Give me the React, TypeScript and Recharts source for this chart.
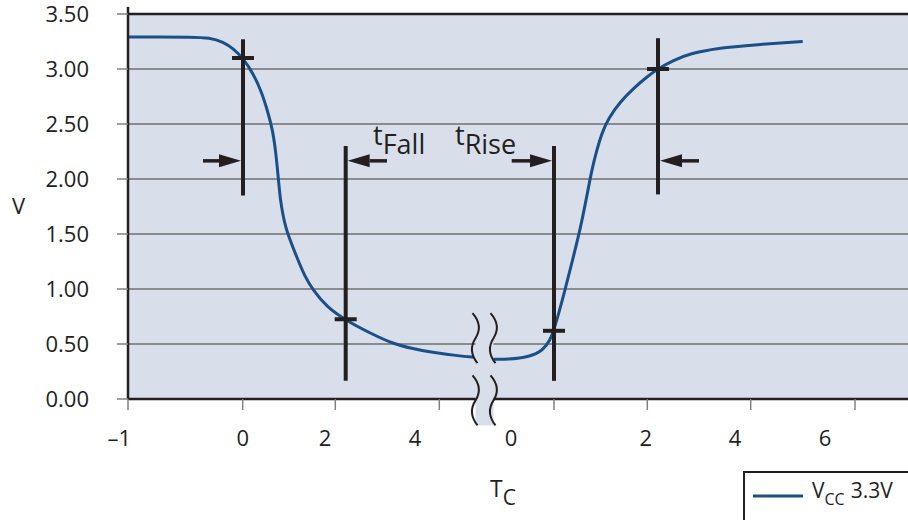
import React from "react";
import {
  ComposedChart,
  Line,
  XAxis,
  YAxis,
  CartesianGrid,
  ReferenceLine,
  ReferenceArea,
  ReferenceDot,
  Legend,
} from "recharts";

// x is a schematic time position (two segments joined by an axis break)
const FALL_T = [0, 0.32, 0.62, 0.82, 0.953, 1.053, 1.153, 1.253, 1.337, 1.403, 1.447, 1.48, 1.503, 1.525, 1.55, 1.575, 1.61, 1.687, 1.77, 1.853, 1.987, 2.177, 2.42, 2.65, 2.92, 3.32, 3.46];
const FALL_V = [3.29, 3.29, 3.29, 3.285, 3.245, 3.185, 3.095, 2.958, 2.791, 2.595, 2.443, 2.231, 2.004, 1.8, 1.67, 1.57, 1.47, 1.291, 1.109, 0.988, 0.836, 0.715, 0.6, 0.5, 0.44, 0.39, 0.38];
const RISE_T = [3.65, 3.79, 4.02, 4.15, 4.22, 4.27, 4.37, 4.453, 4.52, 4.587, 4.637, 4.687, 4.737, 4.803, 4.92, 5.053, 5.187, 5.303, 5.453, 5.62, 5.887, 6.287, 6.747];
const RISE_V = [0.362, 0.358, 0.382, 0.444, 0.53, 0.655, 0.988, 1.291, 1.534, 1.836, 2.079, 2.261, 2.413, 2.549, 2.7, 2.822, 2.927, 3.004, 3.079, 3.14, 3.19, 3.222, 3.25];

const V_TICKS = [0, 0.5, 1, 1.5, 2, 2.5, 3, 3.5];
const X_TICK_MARKS = [0, 1.147, 2.073, 3.113, 4.26, 5.193, 6.227, 7.27];
const X_LABEL_POS = [0, 1.147, 1.97, 2.87, 3.83, 5.177, 6.07, 6.97];
const X_LABELS = ["\u20131", "0", "2", "4", "0", "2", "4", "6"];

// measurement bars: position, vertical extent, level of the crossing mark
const BAR_T = [1.15, 2.177, 4.26, 5.3];
const BAR_FROM = [1.85, 0.165, 0.165, 1.86];
const BAR_TO = [3.27, 2.3, 2.3, 3.28];
const BAR_CROSS = [3.1, 0.725, 0.62, 3.0];

// arrows pointing at the bars
const ARROW_FROM = [0.75, 2.59, 3.837, 5.71];
const ARROW_TO = [1.13, 2.197, 4.24, 5.32];
const ARROW_V = 2.165;

const NOTE_TEXT = ["Fall", "Rise"];
const NOTE_T = [2.45, 3.27];
const NOTE_V = 2.306;

const BREAK_T = [3.445, 3.625];
const BREAK_V = [-0.24, 0.78];

const curve = [
  ...FALL_T.map((t, i) => ({ t, v: FALL_V[i] })),
  { t: 3.55, v: null },
  ...RISE_T.map((t, i) => ({ t, v: RISE_V[i] })),
];

const INK = "#231f20";
const BLUE = "#1b4f87";
const PLOT_BG = "#d8dfea";
const FONT = '"Open Sans", sans-serif';

const NoTick = () => <g />;

const XLabelTick = (props: any) => {
  const { x, y, index } = props;
  const first = index === 0;
  return (
    <text
      x={x}
      y={y}
      dy="0.71em"
      dx={first ? 3 : 0}
      textAnchor={first ? "end" : "middle"}
      fontSize={22}
      fontFamily={FONT}
      fill={INK}
    >
      {X_LABELS[index]}
    </text>
  );
};

const Arrow = (props: any) => {
  const { x1, y1, x2, y2 } = props;
  const dir = x2 > x1 ? 1 : -1;
  const head = 22;
  return (
    <g>
      <line x1={x1} y1={y1} x2={x2 - dir * head} y2={y2} stroke={INK} strokeWidth={3.5} />
      <polygon
        points={`${x2},${y2} ${x2 - dir * head},${y2 - 6.5} ${x2 - dir * head},${y2 + 6.5}`}
        fill={INK}
      />
    </g>
  );
};

const wave = (x: number, y0: number, y1: number) => {
  const h = y1 - y0;
  return `M ${x} ${y0} Q ${x + 11} ${y0 + h / 4} ${x + 3} ${y0 + h / 2} T ${x + 5} ${y1}`;
};

const BreakShape = (props: any) => {
  const { x, y, width, height } = props;
  const upEnd = y + height * 0.446;
  const lowStart = y + height * 0.554;
  const xs = [x, x + width];
  return (
    <g>
      <rect x={x + 3} y={y} width={width} height={height} fill={PLOT_BG} />
      {xs.map((px) => (
        <g key={px}>
          <path d={wave(px, y, upEnd)} fill="none" stroke={INK} strokeWidth={2} />
          <path d={wave(px, lowStart, y + height)} fill="none" stroke={INK} strokeWidth={2} />
        </g>
      ))}
    </g>
  );
};

const Note = (label: string) => (props: any) => (
  <text x={props.cx} y={props.cy} fontSize={27} fontFamily={FONT} fill={INK}>
    <tspan>t</tspan>
    <tspan dy={9}>{label}</tspan>
  </text>
);

const XTitle = (props: any) => {
  const { viewBox } = props;
  const cx = viewBox.x + viewBox.width / 2 - 38;
  return (
    <text x={cx} y={viewBox.y + 87} fontSize={23} fontFamily={FONT} fill={INK}>
      <tspan>T</tspan>
      <tspan dy={8} fontSize={21}>C</tspan>
    </text>
  );
};

const LegendBox = () => (
  <svg width={200} height={60}>
    <line x1={8} y1={23} x2={58} y2={23} stroke={BLUE} strokeWidth={3} />
    <text x={67} y={24.5} fontSize={21} fontFamily={FONT} fill={INK}>
      <tspan>V</tspan>
      <tspan dy={7} fontSize={16}>CC</tspan>
      <tspan dy={-7} dx={6}>3.3V</tspan>
    </text>
  </svg>
);

export default function App() {
  return (
    <div
      style={{
        position: "absolute",
        left: 0,
        top: 0,
        width: 908,
        height: 520,
        overflow: "hidden",
        background: "#fff",
        fontFamily: FONT,
      }}
    >
      <ComposedChart width={928} height={520} data={curve} margin={{ top: 14, right: 0, bottom: 0, left: 0 }}>
        <CartesianGrid vertical={false} fill={PLOT_BG} fillOpacity={1} stroke="#6f6f6f" strokeWidth={1.3} />
        <XAxis
          xAxisId={0}
          dataKey="t"
          type="number"
          domain={[0, 8]}
          allowDataOverflow
          ticks={X_TICK_MARKS}
          interval={0}
          height={11}
          tickSize={11}
          tick={<NoTick />}
          tickLine={{ stroke: "#808080", strokeWidth: 1.5 }}
          axisLine={{ stroke: INK, strokeWidth: 2.5 }}
        />
        <XAxis
          xAxisId={1}
          dataKey="t"
          type="number"
          domain={[0, 8]}
          allowDataOverflow
          ticks={X_LABEL_POS}
          interval={0}
          height={110}
          tickSize={0}
          tickMargin={20}
          axisLine={false}
          tickLine={false}
          tick={<XLabelTick />}
          label={<XTitle />}
        />
        <YAxis
          type="number"
          domain={[0, 3.5]}
          ticks={V_TICKS}
          interval={0}
          width={128}
          tickSize={11}
          tickMargin={28}
          tickFormatter={(v: number) => v.toFixed(2)}
          tick={{ fontSize: 22, fill: INK, fontFamily: FONT }}
          tickLine={{ stroke: "#808080", strokeWidth: 1.5 }}
          axisLine={{ stroke: INK, strokeWidth: 2.5 }}
          label={{ value: "V", position: "insideLeft", offset: 12, fontSize: 22, fill: INK, fontFamily: FONT }}
        />
        <ReferenceLine y={3.5} stroke={INK} strokeWidth={2.5} />
        <ReferenceLine
          segment={[{ x: 0, y: 3.5 }, { x: 0, y: 3.565 }]}
          ifOverflow="visible"
          stroke={INK}
          strokeWidth={2.5}
        />
        <Line
          name="VCC 3.3V"
          dataKey="v"
          type="basis"
          stroke={BLUE}
          strokeWidth={3}
          dot={false}
          connectNulls={false}
          isAnimationActive={false}
        />
        <ReferenceArea
          x1={BREAK_T[0]}
          x2={BREAK_T[1]}
          y1={BREAK_V[0]}
          y2={BREAK_V[1]}
          ifOverflow="visible"
          shape={<BreakShape />}
          zIndex={600}
        />
        {BAR_T.map((t, i) => (
          <ReferenceLine
            key={`bar${i}`}
            segment={[{ x: t, y: BAR_FROM[i] }, { x: t, y: BAR_TO[i] }]}
            stroke={INK}
            strokeWidth={4}
            zIndex={700}
          />
        ))}
        {BAR_T.map((t, i) => (
          <ReferenceLine
            key={`cross${i}`}
            segment={[{ x: t - 0.11, y: BAR_CROSS[i] }, { x: t + 0.11, y: BAR_CROSS[i] }]}
            stroke={INK}
            strokeWidth={4}
            zIndex={700}
          />
        ))}
        {ARROW_FROM.map((t, i) => (
          <ReferenceLine
            key={`arrow${i}`}
            segment={[{ x: t, y: ARROW_V }, { x: ARROW_TO[i], y: ARROW_V }]}
            shape={Arrow}
            zIndex={700}
          />
        ))}
        {NOTE_TEXT.map((s, i) => (
          <ReferenceDot key={s} x={NOTE_T[i]} y={NOTE_V} r={0} shape={Note(s)} zIndex={700} />
        ))}
        <Legend
          layout="horizontal"
          verticalAlign="middle"
          align="center"
          content={<LegendBox />}
          wrapperStyle={{
            left: 743,
            top: 471,
            width: 200,
            height: 60,
            border: `2px solid ${INK}`,
            boxSizing: "border-box",
            background: "#fff",
          }}
        />
      </ComposedChart>
    </div>
  );
}
